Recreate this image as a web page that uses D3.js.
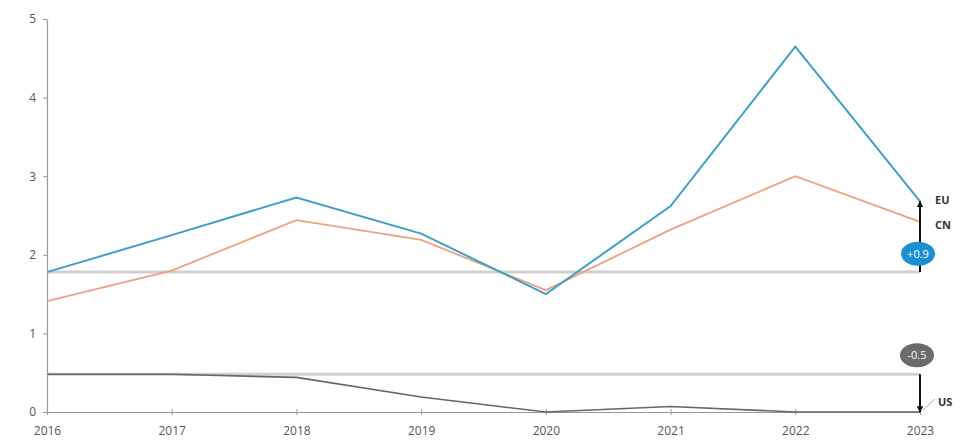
<!DOCTYPE html>
<html><head><meta charset="utf-8">
<script src="https://cdn.jsdelivr.net/npm/d3@7"></script>
<style>body{margin:0;background:#fff}svg{display:block}text{font-family:"Open Sans",sans-serif}</style>
</head><body><svg id="c" width="958" height="444"></svg>
<script>
const years = [2016, 2017, 2018, 2019, 2020, 2021, 2022, 2023];
const euValues = [1.78, 2.25, 2.73, 2.27, 1.50, 2.62, 4.65, 2.68];
const cnValues = [1.41, 1.80, 2.44, 2.19, 1.55, 2.32, 3.00, 2.42];
const usValues = [0.48, 0.48, 0.44, 0.19, 0.00, 0.07, 0.00, 0.00];
const yTicks = [0, 1, 2, 3, 4, 5];
const seriesLabels = ["EU", "CN", "US"];
const changeLabels = ["+0.9", "-0.5"];

const svg = d3.select("#c");
const x = d3.scaleLinear().domain([2016, 2023]).range([47, 920]);
const y = d3.scaleLinear().domain([0, 5]).range([412, 19]);

// axes
const yAxis = d3.axisLeft(y).tickValues(yTicks).tickSize(4).tickSizeOuter(0).tickPadding(7).tickFormat(d3.format("d"));
const gy = svg.append("g").attr("transform", `translate(${x(2016)},0)`).call(yAxis);
const xAxis = d3.axisBottom(x).tickValues(years).tickSize(4).tickSizeOuter(0).tickPadding(10).tickFormat(d3.format("d"));
const gx = svg.append("g").attr("transform", `translate(0,${y(0)})`).call(xAxis);
[gx, gy].forEach(g => {
  g.select(".domain").attr("stroke", "#999").attr("stroke-width", 1.2);
  g.selectAll(".tick line").attr("stroke", "#999");
  g.selectAll(".tick text").attr("fill", "#555").style("font-size", "12px");
});
gx.selectAll(".tick line").attr("y1", -3).attr("y2", 3);

// reference lines
svg.append("line").attr("x1", x(2016)).attr("x2", x(2023)).attr("y1", y(euValues[0])).attr("y2", y(euValues[0]))
  .attr("stroke", "#cfcfcf").attr("stroke-width", 3);
svg.append("line").attr("x1", x(2016)).attr("x2", x(2023)).attr("y1", y(usValues[0])).attr("y2", y(usValues[0]))
  .attr("stroke", "#cfcfcf").attr("stroke-width", 3);

const line = d3.line().x((d, i) => x(years[i])).y(d => y(d));
svg.append("path").datum(usValues).attr("d", line).attr("fill", "none").attr("stroke", "#666").attr("stroke-width", 1.6);
svg.append("path").datum(cnValues).attr("d", line).attr("fill", "none").attr("stroke", "#e9a37f").attr("stroke-width", 1.8);
svg.append("path").datum(euValues).attr("d", line).attr("fill", "none").attr("stroke", "#3f9fc6").attr("stroke-width", 2);

// arrows
const defs = svg.append("defs");
defs.append("marker").attr("id", "ah").attr("viewBox", "0 0 10 10").attr("refX", 9).attr("refY", 5)
  .attr("markerWidth", 3.2).attr("markerHeight", 3.2).attr("orient", "auto")
  .append("path").attr("d", "M0,0 L10,5 L0,10 z").attr("fill", "#111");
const xe = x(2023);
svg.append("line").attr("x1", xe).attr("x2", xe).attr("y1", y(euValues[0])).attr("y2", y(euValues[7]))
  .attr("stroke", "#111").attr("stroke-width", 2).attr("marker-end", "url(#ah)");
svg.append("line").attr("x1", xe).attr("x2", xe).attr("y1", y(usValues[0])).attr("y2", y(usValues[7]))
  .attr("stroke", "#111").attr("stroke-width", 2).attr("marker-end", "url(#ah)");

// change bubbles
const euMid = y((euValues[0] + euValues[7]) / 2) + 17;
svg.append("ellipse").attr("cx", xe - 2).attr("cy", euMid).attr("rx", 17).attr("ry", 12).attr("fill", "#1c8fd0");
svg.append("text").attr("x", xe - 2).attr("y", euMid + 4).attr("text-anchor", "middle").attr("fill", "#fff")
  .style("font-size", "11px").text(changeLabels[0]);
const usB = y(usValues[0]) - 19;
svg.append("ellipse").attr("cx", xe - 3).attr("cy", usB).attr("rx", 17).attr("ry", 12).attr("fill", "#6b6b6b");
svg.append("text").attr("x", xe - 3).attr("y", usB + 4).attr("text-anchor", "middle").attr("fill", "#fff")
  .style("font-size", "11px").text(changeLabels[1]);

// series labels
svg.append("text").attr("x", 935).attr("y", y(euValues[7]) + 3).attr("fill", "#333").style("font-size", "11px").style("font-weight", "bold").text(seriesLabels[0]);
svg.append("text").attr("x", 935).attr("y", y(cnValues[7]) + 7).attr("fill", "#333").style("font-size", "11px").style("font-weight", "bold").text(seriesLabels[1]);
svg.append("line").attr("x1", xe + 3).attr("y1", y(0) - 2).attr("x2", xe + 15).attr("y2", y(0) - 13).attr("stroke", "#aaa").attr("stroke-width", 1);
svg.append("text").attr("x", 938).attr("y", y(0) - 6).attr("fill", "#333").style("font-size", "11px").style("font-weight", "bold").text(seriesLabels[2]);
</script></body></html>
